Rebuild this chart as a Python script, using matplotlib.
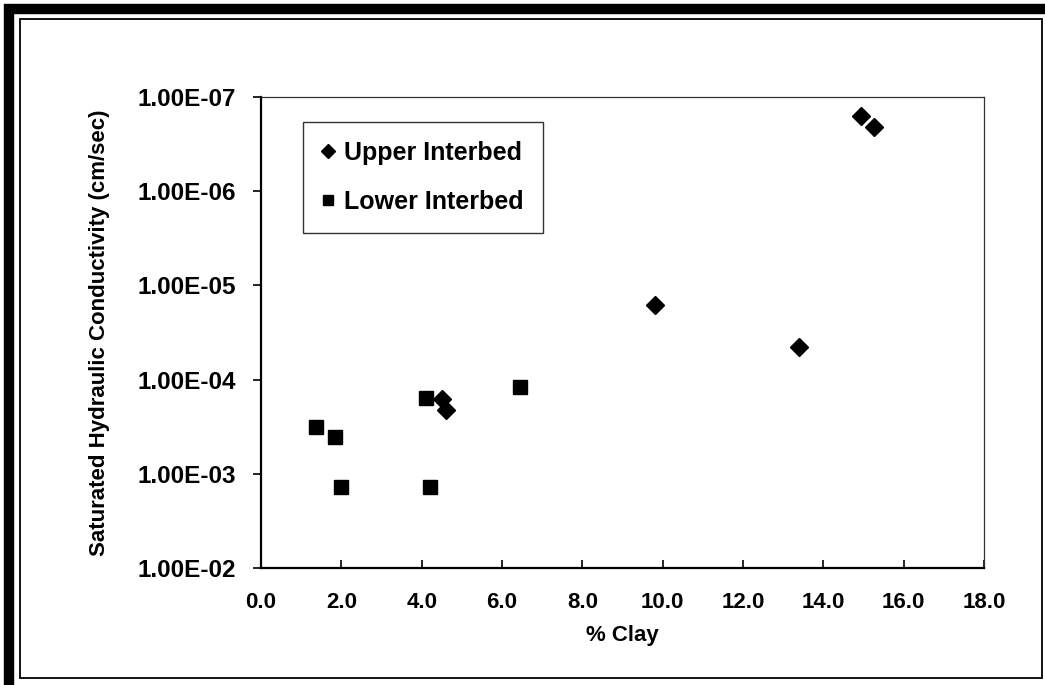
import matplotlib
matplotlib.use("Agg")
import matplotlib.pyplot as plt
from matplotlib.patches import Rectangle
from matplotlib.ticker import FixedLocator, FuncFormatter, NullLocator

plt.rcParams['font.family'] = ['Liberation Sans', 'DejaVu Sans']
plt.rcParams['font.weight'] = 'bold'

# % clay vs saturated hydraulic conductivity (cm/sec)
upper_clay = [4.5, 4.6, 9.8, 13.4, 14.95, 15.25]
upper_k = [1.6e-4, 2.1e-4, 1.6e-5, 4.5e-5, 1.6e-7, 2.1e-7]

lower_clay = [1.38, 1.85, 1.98, 4.1, 4.2, 6.45]
lower_k = [3.2e-4, 4.1e-4, 1.38e-3, 1.55e-4, 1.38e-3, 1.2e-4]

x_ticks = [0, 2, 4, 6, 8, 10, 12, 14, 16, 18]
y_ticks = [1e-2, 1e-3, 1e-4, 1e-5, 1e-6, 1e-7]

W, H = 1045, 685
fig = plt.figure(figsize=(W / 100, H / 100), dpi=100)

def px(x0, y0, x1, y1):
    # pixel box (top-left origin) -> figure fraction rect
    return (x0 / W, 1 - y1 / H, (x1 - x0) / W, (y1 - y0) / H)

# outer thick frame and inner thin frame
l, b, w, h = px(8.5, 8.5, 1052, 690)
fig.patches.append(Rectangle((l, b), w, h, transform=fig.transFigure,
                             fill=False, ec='black', lw=7.5, zorder=0))
l, b, w, h = px(20, 19, 1042, 678)
fig.patches.append(Rectangle((l, b), w, h, transform=fig.transFigure,
                             fill=False, ec='black', lw=1.3, zorder=0))

ax = fig.add_axes(px(261, 97, 984, 568))

ax.plot(upper_clay, upper_k, linestyle='none', marker='D', markersize=9,
        color='black', label='Upper Interbed')
ax.plot(lower_clay, lower_k, linestyle='none', marker='s', markersize=10,
        color='black', label='Lower Interbed')

ax.set_yscale('log')
ax.set_ylim(1e-2, 1e-7)
ax.set_xlim(0, 18)

ax.xaxis.set_major_locator(FixedLocator(x_ticks))
ax.xaxis.set_major_formatter(FuncFormatter(lambda v, p: '%.1f' % v))
ax.yaxis.set_major_locator(FixedLocator(y_ticks))
ax.yaxis.set_major_formatter(FuncFormatter(lambda v, p: '%.2E' % v))
ax.yaxis.set_minor_locator(NullLocator())
ax.xaxis.set_minor_locator(NullLocator())

ax.tick_params(axis='x', direction='in', length=6, width=1.2, pad=17,
               labelsize=16)
ax.tick_params(axis='y', direction='out', length=6, width=1.2, pad=12,
               labelsize=17.5)

for side in ['left', 'bottom']:
    ax.spines[side].set_linewidth(1.6)
for side in ['top', 'right']:
    ax.spines[side].set_linewidth(0.9)
    ax.spines[side].set_color('#333333')

ax.set_xlabel('% Clay', fontsize=16, fontweight='bold', labelpad=9)
ax.set_ylabel('Saturated Hydraulic Conductivity (cm/sec)', fontsize=16,
              fontweight='bold', labelpad=20)

leg = ax.legend(loc='upper left', bbox_to_anchor=(42 / 723, 1 - 25 / 471),
                borderaxespad=0, fontsize=18, frameon=True, fancybox=False,
                handlelength=0.5, handletextpad=0.4, labelspacing=1.0,
                borderpad=0.75, markerscale=0.75)
leg.get_frame().set_edgecolor('black')
leg.get_frame().set_linewidth(1.0)
for t in leg.get_texts():
    t.set_fontweight('bold')

fig.savefig('out.png', dpi=100)
